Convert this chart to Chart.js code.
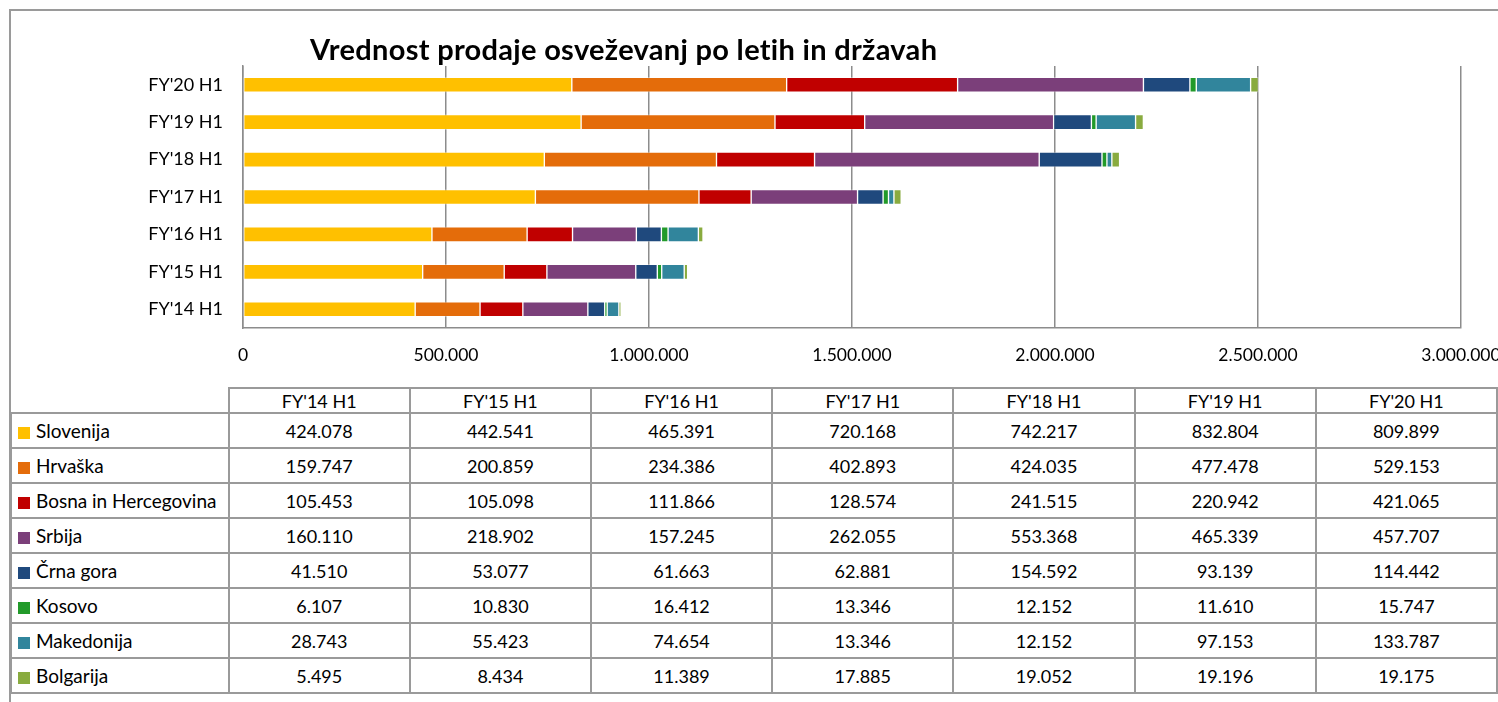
<!DOCTYPE html>
<html>
<head>
<meta charset="utf-8">
<script src="https://cdn.jsdelivr.net/npm/chart.js@4/dist/chart.umd.min.js"></script>
<style>
  html, body { margin: 0; padding: 0; background: #fff; overflow: hidden; width: 1498px; height: 702px; }
  body { position: relative; font-family: Lato, "Liberation Sans", sans-serif; color: #000; }
  #frame { position: absolute; left: 9px; top: 9px; width: 2000px; height: 2000px;
           border-left: 2px solid #9a9a9a; border-top: 2px solid #9a9a9a; }
  #title { position: absolute; left: 310px; top: 31px; font-size: 29px; font-weight: bold; letter-spacing: 0.3px; white-space: nowrap; }
  #chart { position: absolute; left: 0; top: 0; }
  #tbl { position: absolute; left: 10px; top: 387px; border-collapse: collapse; table-layout: fixed; font-size: 18px; }
  #tbl td { border: 2px solid #9a9a9a; text-align: center; padding: 0; height: 35px; box-sizing: border-box; white-space: nowrap; }
  #tbl tr.head td { height: 25px; }
  #tbl td.corner { border-top: none; border-left: none; }
  #tbl td.name { text-align: left; padding-left: 6px; font-size: 19px; }
  #tbl .sw { display: inline-block; width: 12px; height: 12px; margin-right: 6px; vertical-align: -1px; }
</style>
</head>
<body>
<div id="frame"></div>
<canvas id="chart" width="1540" height="380"></canvas>
<div id="title">Vrednost prodaje osveževanj po letih in državah</div>
<table id="tbl"></table>
<script>
const categories = ["FY'14 H1", "FY'15 H1", "FY'16 H1", "FY'17 H1", "FY'18 H1", "FY'19 H1", "FY'20 H1"];
const countries = ["Slovenija", "Hrvaška", "Bosna in Hercegovina", "Srbija", "Črna gora", "Kosovo", "Makedonija", "Bolgarija"];
const slovenija = [424078, 442541, 465391, 720168, 742217, 832804, 809899];
const hrvaska = [159747, 200859, 234386, 402893, 424035, 477478, 529153];
const bosna = [105453, 105098, 111866, 128574, 241515, 220942, 421065];
const srbija = [160110, 218902, 157245, 262055, 553368, 465339, 457707];
const crnaGora = [41510, 53077, 61663, 62881, 154592, 93139, 114442];
const kosovo = [6107, 10830, 16412, 13346, 12152, 11610, 15747];
const makedonija = [28743, 55423, 74654, 13346, 12152, 97153, 133787];
const bolgarija = [5495, 8434, 11389, 17885, 19052, 19196, 19175];
const colors = ["#FFC000", "#E46C0A", "#C00000", "#7B3F7A", "#1F497D", "#229A2A", "#31859C", "#89AB3F"];
const xTicks = [0, 500000, 1000000, 1500000, 2000000, 2500000, 3000000];

const seriesValues = [slovenija, hrvaska, bosna, srbija, crnaGora, kosovo, makedonija, bolgarija];

function fmt(n) {
  return String(n).replace(/\B(?=(\d{3})+(?!\d))/g, ".");
}

// table under the chart
function buildTable() {
  const tbl = document.getElementById("tbl");
  let html = '<colgroup><col style="width:218px">';
  categories.forEach(() => { html += '<col style="width:184.6px">'; });
  html += '</colgroup><tr class="head"><td class="corner"></td>';
  categories.forEach(c => { html += `<td>${c}</td>`; });
  html += '</tr>';
  countries.forEach((name, i) => {
    html += `<tr><td class="name"><span class="sw" style="background:${colors[i]}"></span>${name}</td>`;
    seriesValues[i].forEach(v => { html += `<td>${fmt(v)}</td>`; });
    html += '</tr>';
  });
  tbl.innerHTML = html;
}

const gridColor = "#8c8c8c";

function drawChart() {
  const ctx = document.getElementById("chart").getContext("2d");
  new Chart(ctx, {
    type: "bar",
    data: {
      labels: categories,
      datasets: countries.map((name, i) => ({
        label: name,
        data: seriesValues[i],
        backgroundColor: colors[i],
        borderColor: "rgba(255,255,255,0.35)",
        borderWidth: 1,
        borderSkipped: false,
        barThickness: 15
      }))
    },
    options: {
      indexAxis: "y",
      responsive: false,
      animation: false,
      layout: { padding: { left: 0, top: 66, right: 79, bottom: 0 } },
      plugins: {
        legend: { display: false },
        title: { display: false },
        tooltip: { enabled: false }
      },
      scales: {
        x: {
          stacked: true,
          min: 0,
          max: 3000000,
          afterBuildTicks: axis => { axis.ticks = xTicks.map(v => ({ value: v })); },
          afterFit: scale => { scale.height = 52; },
          grid: { color: gridColor, lineWidth: 1.5, drawTicks: false },
          border: { display: true, color: gridColor, width: 1.5 },
          ticks: {
            padding: 17,
            color: "#000",
            font: { family: "Lato", size: 17.5 },
            maxRotation: 0,
            callback: v => fmt(v)
          }
        },
        y: {
          stacked: true,
          reverse: true,
          afterFit: scale => { scale.width = 243; },
          grid: { display: false, drawTicks: false },
          border: { display: true, color: gridColor, width: 1.5 },
          ticks: {
            padding: 20,
            color: "#000",
            font: { family: "Lato", size: 18 }
          }
        }
      }
    }
  });
}

buildTable();
drawChart();
</script>
</body>
</html>
